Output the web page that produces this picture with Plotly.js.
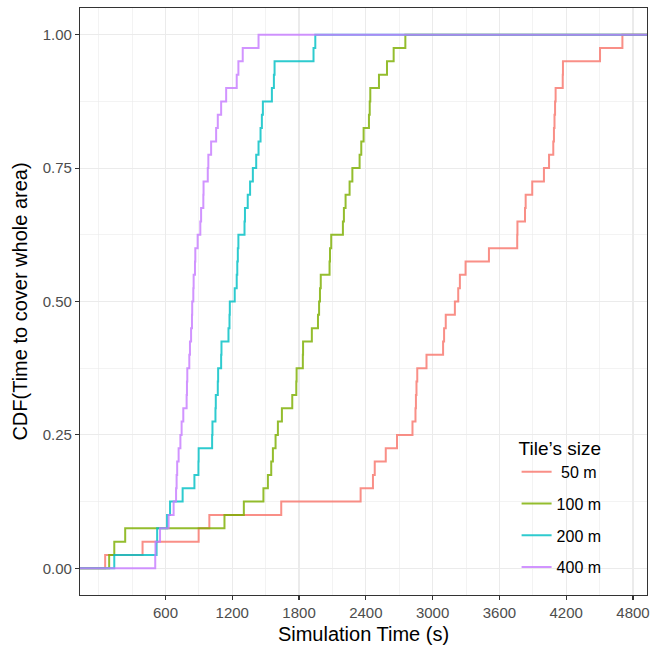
<!DOCTYPE html>
<html>
<head>
<meta charset="utf-8">
<script src="https://cdn.plot.ly/plotly-3.0.1.min.js"></script>
<style>html,body{margin:0;padding:0;background:#fff;}#chart{width:655px;height:646px;}</style>
</head>
<body>
<div id="chart"></div>
<script>
// Sorted sample times (s) for each tile size, read from the ECDF steps
const t50 = [58, 394, 898, 994, 1640, 2353, 2464, 2480, 2579, 2680, 2819, 2846, 2850, 2855, 2862, 2945, 3094, 3103, 3118, 3200, 3230, 3245, 3296, 3506, 3760, 3762, 3830, 3836, 3895, 4000, 4046, 4084, 4090, 4095, 4100, 4105, 4169, 4171, 4504, 4705];
const t100 = [94, 140, 238, 1130, 1304, 1480, 1520, 1550, 1565, 1589, 1610, 1646, 1739, 1775, 1778, 1834, 1836, 1915, 1970, 1980, 1988, 1995, 2074, 2078, 2089, 2194, 2203, 2218, 2254, 2279, 2344, 2359, 2380, 2428, 2435, 2440, 2518, 2590, 2650, 2755];
const t200 = [140, 520, 525, 614, 641, 754, 860, 896, 898, 1019, 1022, 1049, 1052, 1070, 1073, 1100, 1103, 1166, 1175, 1178, 1222, 1240, 1245, 1250, 1255, 1310, 1314, 1339, 1360, 1385, 1415, 1436, 1454, 1466, 1475, 1556, 1574, 1580, 1930, 1946];
const t400 = [508, 510, 551, 628, 673, 695, 700, 705, 718, 734, 745, 760, 790, 793, 796, 814, 820, 830, 838, 840, 850, 853, 865, 868, 889, 913, 920, 940, 942, 980, 985, 1010, 1055, 1070, 1100, 1145, 1240, 1255, 1294, 1436];

const seriesNames = ["\u200850 m", "100 m", "200 m", "400 m"];
const seriesColors = ["rgba(248,118,109,0.82)", "rgba(124,174,0,0.82)", "rgba(0,191,196,0.82)", "rgba(199,124,255,0.82)"];

const xTickVals = [600, 1200, 1800, 2400, 3000, 3600, 4200, 4800];
const xMinorVals = [0, 300, 900, 1500, 2100, 2700, 3300, 3900, 4500];
const yTickVals = [0, 0.25, 0.5, 0.75, 1];
const yTickText = ["0.00", "0.25", "0.50", "0.75", "1.00"];
const yMinorVals = [0.125, 0.375, 0.625, 0.875];

const xRange = [-168, 4926];
const yRange = [-0.05, 1.05];

function ecdfTrace(times, name, color) {
  const s = times.slice().sort((a, b) => a - b);
  const n = s.length;
  const xs = [xRange[0]];
  const ys = [0];
  s.forEach((v, i) => { xs.push(v); ys.push((i + 1) / n); });
  xs.push(xRange[1]); ys.push(1);
  return {
    type: "scatter", mode: "lines", x: xs, y: ys, name: name,
    legendgroup: name,
    line: {color: color, width: 2, shape: "hv"},
    hoverinfo: "skip"
  };
}

const data = [t50, t100, t200, t400].map((t, i) => ecdfTrace(t, seriesNames[i], seriesColors[i]));

const font = "Liberation Sans, Arial, Helvetica, sans-serif";
const layout = {
  width: 655, height: 646,
  margin: {l: 80, r: 8, t: 8, b: 51, pad: 0},
  paper_bgcolor: "#ffffff", plot_bgcolor: "#ffffff",
  font: {family: font, color: "#000000"},
  showlegend: true,
  legend: {
    x: 0.770, y: 0.281, xanchor: "left", yanchor: "top",
    bgcolor: "rgba(255,255,255,0)", borderwidth: 0,
    font: {family: font, size: 16, color: "#000000"},
    title: {text: "Tile\u2019s size", font: {family: font, size: 19, color: "#000000"}},
    tracegroupgap: 8,
    itemwidth: 30
  },
  shapes: [{
    type: "rect", xref: "paper", yref: "paper", layer: "between",
    x0: 0.744, x1: 0.947, y0: 0.01, y1: 0.29,
    fillcolor: "#ffffff", line: {width: 0}
  }],
  xaxis: {
    range: xRange, tickmode: "array", tickvals: xTickVals,
    ticks: "outside", ticklen: 4, tickwidth: 1.1, tickcolor: "#333333",
    tickfont: {family: font, size: 15, color: "#4D4D4D"},
    showgrid: true, gridcolor: "#EBEBEB", gridwidth: 1.1,
    minor: {tickmode: "array", tickvals: xMinorVals, showgrid: true, gridcolor: "#EBEBEB", gridwidth: 0.6, ticks: ""},
    zeroline: false, showline: true, mirror: true, linecolor: "#333333", linewidth: 1.1,
    title: {text: "Simulation Time (s)", font: {family: font, size: 20, color: "#000000"}, standoff: 6}
  },
  yaxis: {
    range: yRange, tickmode: "array", tickvals: yTickVals, ticktext: yTickText,
    ticks: "outside", ticklen: 4, tickwidth: 1.1, tickcolor: "#333333",
    tickfont: {family: font, size: 15, color: "#4D4D4D"},
    showgrid: true, gridcolor: "#EBEBEB", gridwidth: 1.1,
    minor: {tickmode: "array", tickvals: yMinorVals, showgrid: true, gridcolor: "#EBEBEB", gridwidth: 0.6, ticks: ""},
    zeroline: false, showline: true, mirror: true, linecolor: "#333333", linewidth: 1.1,
    title: {text: "CDF(Time to cover whole area)", font: {family: font, size: 20, color: "#000000"}, standoff: 9}
  }
};

Plotly.newPlot("chart", data, layout, {displayModeBar: false, staticPlot: true});
</script>
</body>
</html>
